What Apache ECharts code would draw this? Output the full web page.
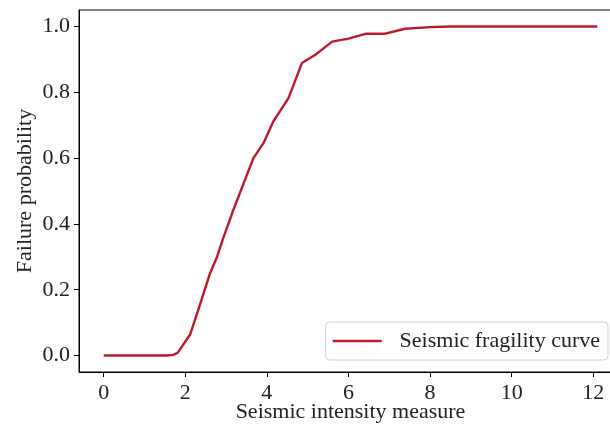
<!DOCTYPE html>
<html>
<head>
<meta charset="utf-8">
<script src="https://cdn.jsdelivr.net/npm/echarts@6/dist/echarts.min.js"></script>
<style>
html,body{margin:0;padding:0;background:#fff;}
#chart{width:610px;height:429px;}
</style>
</head>
<body>
<div id="chart"></div>
<script>
// Data
const imValues = [0, 1.55, 1.70, 1.81, 2.12, 2.24, 2.40, 2.61, 2.77, 2.93, 3.18, 3.67, 3.92, 4.16, 4.53, 4.86, 5.19, 5.60, 6.00, 6.44, 6.90, 7.39, 8.00, 8.50, 10.0, 12.1];
const failProb = [0, 0, 0.002, 0.008, 0.064, 0.109, 0.170, 0.251, 0.297, 0.357, 0.443, 0.600, 0.646, 0.712, 0.782, 0.889, 0.914, 0.954, 0.963, 0.978, 0.978, 0.993, 0.998, 1.0, 1.0, 1.0];
const xTicks = [0, 2, 4, 6, 8, 10, 12];
const yTicks = [0, 0.2, 0.4, 0.6, 0.8, 1.0];
const seriesName = 'Seismic fragility curve';

const FONT = 'Liberation Serif';
const FS = 22;
const TXT = '#222';
const LINE_COLOR = '#bd1a2c';

const chart = echarts.init(document.getElementById('chart'), null, {renderer: 'canvas'});
chart.setOption({
  animation: false,
  backgroundColor: '#fff',
  textStyle: {fontFamily: FONT},
  grid: {left: 79, top: 10, right: -12, bottom: 57, show: true, borderColor: '#000', borderWidth: 1, containLabel: false, outerBoundsMode: 'none'},
  legend: {
    data: [{name: seriesName, icon: 'rect'}],
    right: 2, bottom: 69,
    orient: 'vertical',
    backgroundColor: 'rgba(255,255,255,0.8)',
    borderColor: '#d0d0d0', borderWidth: 1, borderRadius: 4,
    padding: [8, 8, 8, 7],
    itemWidth: 49, itemHeight: 2.5,
    itemStyle: {color: LINE_COLOR},
    textStyle: {fontFamily: FONT, fontSize: FS, color: TXT, padding: [0, 0, 0, 13]},
    selectedMode: false
  },
  xAxis: {
    type: 'value',
    min: -0.605, max: 12.705,
    name: 'Seismic intensity measure',
    nameLocation: 'middle', nameGap: 29, nameMoveOverlap: false,
    nameTextStyle: {fontFamily: FONT, fontSize: FS, color: TXT},
    axisLine: {show: true, onZero: false, lineStyle: {color: '#000', width: 1}},
    axisTick: {show: true, length: 5, inside: false, customValues: xTicks, lineStyle: {color: '#000', width: 1}},
    axisLabel: {customValues: xTicks, fontFamily: FONT, fontSize: FS, color: TXT, margin: 10, formatter: v => String(v)},
    splitLine: {show: false}
  },
  yAxis: {
    type: 'value',
    min: -0.05, max: 1.05,
    name: 'Failure probability',
    nameLocation: 'middle', nameGap: 43, nameRotate: 90, nameMoveOverlap: false,
    nameTextStyle: {fontFamily: FONT, fontSize: FS, color: TXT},
    axisLine: {show: true, onZero: false, lineStyle: {color: '#000', width: 1}},
    axisTick: {show: true, length: 5, inside: false, customValues: yTicks, lineStyle: {color: '#000', width: 1}},
    axisLabel: {customValues: yTicks, fontFamily: FONT, fontSize: FS, color: TXT, margin: 9, formatter: v => v.toFixed(1)},
    splitLine: {show: false}
  },
  series: [{
    name: seriesName,
    type: 'line',
    data: imValues.map((x, i) => [x, failProb[i]]),
    symbol: 'none',
    showSymbol: false,
    lineStyle: {color: LINE_COLOR, width: 2.4},
    itemStyle: {color: LINE_COLOR}
  }]
});
</script>
</body>
</html>
